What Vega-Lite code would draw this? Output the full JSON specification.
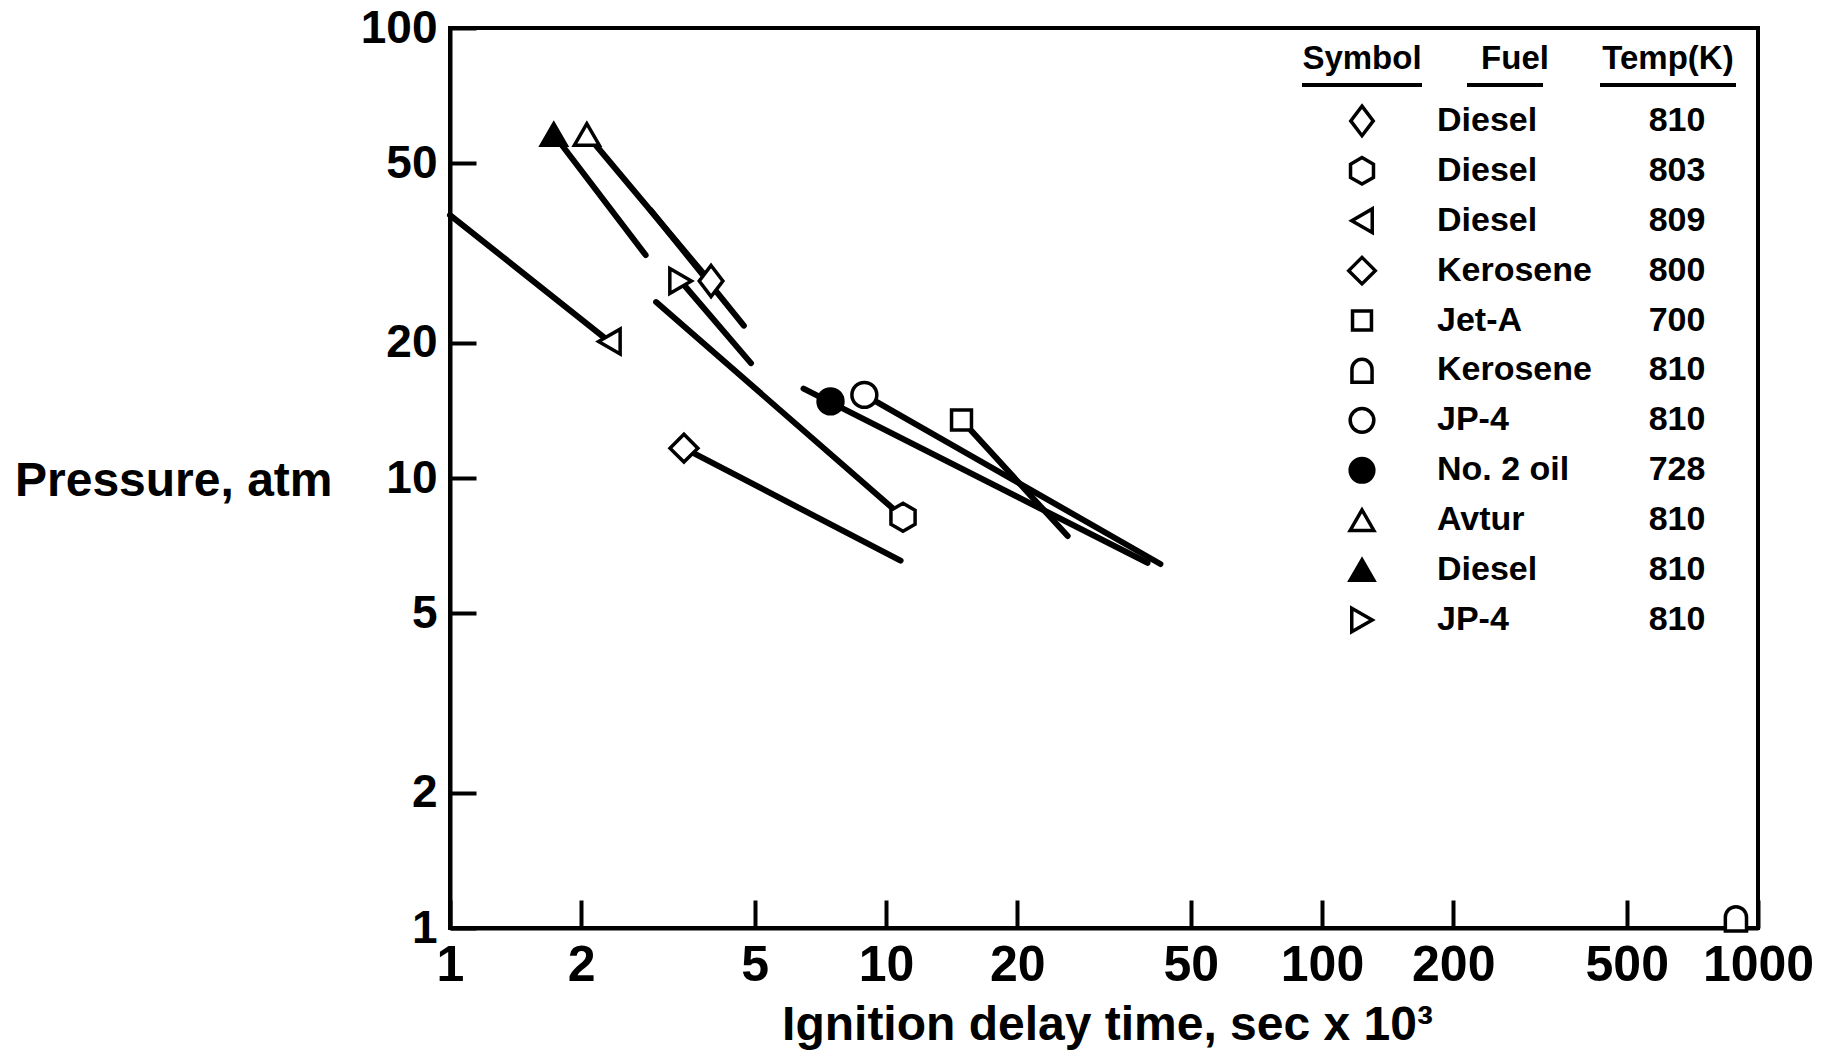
{
  "$schema": "https://vega.github.io/schema/vega-lite/v6.json",
  "width": 1308,
  "height": 900,
  "autosize": {"type": "none"},
  "padding": {"left": 450, "top": 28, "right": 84, "bottom": 125},
  "background": "white",
  "config": {
    "view": {"stroke": "black", "strokeWidth": 4},
    "font": "Liberation Sans",
    "text": {"font": "Liberation Sans", "fontWeight": "bold", "fontSize": 34, "color": "black"}
  },
  "datasets": {
    "series": [
      {"key": "Diesel 810 (diamond)", "fuel": "Diesel", "temp": "810", "t": 3.97, "p": 27.4},
      {"key": "Diesel 803 (hexagon)", "fuel": "Diesel", "temp": "803", "t": 10.94, "p": 8.18},
      {"key": "Diesel 809 (left triangle)", "fuel": "Diesel", "temp": "809", "t": 2.32, "p": 20.1},
      {"key": "Kerosene 800 (diamond)", "fuel": "Kerosene", "temp": "800", "t": 3.44, "p": 11.65},
      {"key": "Jet-A 700 (square)", "fuel": "Jet-A", "temp": "700", "t": 14.9, "p": 13.45},
      {"key": "Kerosene 810 (arch)", "fuel": "Kerosene", "temp": "810", "t": 890, "p": 1.05},
      {"key": "JP-4 810 (circle)", "fuel": "JP-4", "temp": "810", "t": 8.92, "p": 15.3},
      {"key": "No. 2 oil 728 (filled circle)", "fuel": "No. 2 oil", "temp": "728", "t": 7.46, "p": 14.8},
      {"key": "Avtur 810 (triangle)", "fuel": "Avtur", "temp": "810", "t": 2.06, "p": 58.0},
      {"key": "Diesel 810 (filled triangle)", "fuel": "Diesel", "temp": "810", "t": 1.73, "p": 58.0},
      {"key": "JP-4 810 (right triangle)", "fuel": "JP-4", "temp": "810", "t": 3.38, "p": 27.4}
    ],
    "lines": [
      {"key": "Diesel 810 (diamond)", "t": 2.89, "p": 39.3},
      {"key": "Diesel 810 (diamond)", "t": 4.72, "p": 21.8},
      {"key": "Diesel 803 (hexagon)", "t": 2.97, "p": 24.6},
      {"key": "Diesel 803 (hexagon)", "t": 10.94, "p": 8.18},
      {"key": "Diesel 809 (left triangle)", "t": 1.0, "p": 38.4},
      {"key": "Diesel 809 (left triangle)", "t": 2.32, "p": 20.1},
      {"key": "Kerosene 800 (diamond)", "t": 3.44, "p": 11.65},
      {"key": "Kerosene 800 (diamond)", "t": 10.8, "p": 6.55},
      {"key": "Jet-A 700 (square)", "t": 14.9, "p": 13.45},
      {"key": "Jet-A 700 (square)", "t": 26.1, "p": 7.43},
      {"key": "JP-4 810 (circle)", "t": 8.92, "p": 15.3},
      {"key": "JP-4 810 (circle)", "t": 42.6, "p": 6.44},
      {"key": "No. 2 oil 728 (filled circle)", "t": 6.47, "p": 15.8},
      {"key": "No. 2 oil 728 (filled circle)", "t": 39.8, "p": 6.48},
      {"key": "Avtur 810 (triangle)", "t": 2.06, "p": 58.0},
      {"key": "Avtur 810 (triangle)", "t": 3.82, "p": 28.4},
      {"key": "Diesel 810 (filled triangle)", "t": 1.73, "p": 58.0},
      {"key": "Diesel 810 (filled triangle)", "t": 2.81, "p": 31.3},
      {"key": "JP-4 810 (right triangle)", "t": 3.38, "p": 27.4},
      {"key": "JP-4 810 (right triangle)", "t": 4.9, "p": 18.0}
    ],
    "headers": [
      {"h": "Symbol"},
      {"h": "Fuel"},
      {"h": "Temp(K)"}
    ]
  },
  "layer": [
    {
      "layer": [
        {
          "data": {"name": "lines"},
          "mark": {"type": "line", "stroke": "black", "strokeWidth": 6, "strokeCap": "round"},
          "encoding": {
            "x": {
              "field": "t", "type": "quantitative",
              "scale": {"type": "log", "domain": [1, 1000], "nice": false},
              "axis": {
                "values": [1, 2, 5, 10, 20, 50, 100, 200, 500, 1000],
                "format": "d",
                "grid": false,
                "tickSize": -28, "tickWidth": 4, "tickColor": "black",
                "domainColor": "black", "domainWidth": 4,
                "labelFont": "Liberation Sans", "labelFontWeight": "bold", "labelFontSize": 50, "labelColor": "black",
                "labelPadding": 40, "labelFlush": false, "labelOverlap": false,
                "title": "Ignition delay time, sec x 10³",
                "titleFont": "Liberation Sans", "titleFontWeight": "bold", "titleFontSize": 48, "titleColor": "black",
                "titleX": 657, "titleY": 111, "titleAlign": "center", "titleBaseline": "alphabetic", "titleAnchor": null
              }
            },
            "y": {
              "field": "p", "type": "quantitative",
              "scale": {"type": "log", "domain": [1, 100], "nice": false},
              "axis": {
                "values": [1, 2, 5, 10, 20, 50, 100],
                "format": "d",
                "grid": false,
                "tickSize": -26, "tickWidth": 4, "tickColor": "black",
                "domainColor": "black", "domainWidth": 4,
                "labelFont": "Liberation Sans", "labelFontWeight": "bold", "labelFontSize": 46, "labelColor": "black",
                "labelPadding": 39, "labelFlush": false, "labelOverlap": false, "labelBaseline": "middle",
                "title": "Pressure, atm",
                "titleFont": "Liberation Sans", "titleFontWeight": "bold", "titleFontSize": 48, "titleColor": "black",
                "titleAngle": 0, "titleX": -118, "titleY": 453, "titleAlign": "right", "titleBaseline": "middle"
              }
            },
            "detail": {"field": "key", "type": "nominal"}
          }
        },
        {
          "data": {"name": "series"},
          "mark": {"type": "point", "filled": true, "stroke": "black", "strokeWidth": 3.5, "size": 620, "opacity": 1},
          "encoding": {
            "x": {"field": "t", "type": "quantitative"},
            "y": {"field": "p", "type": "quantitative"},
            "shape": {
              "field": "key", "type": "nominal", "legend": null,
              "scale": {
                "domain": ["Diesel 810 (diamond)", "Diesel 803 (hexagon)", "Diesel 809 (left triangle)", "Kerosene 800 (diamond)", "Jet-A 700 (square)", "Kerosene 810 (arch)", "JP-4 810 (circle)", "No. 2 oil 728 (filled circle)", "Avtur 810 (triangle)", "Diesel 810 (filled triangle)", "JP-4 810 (right triangle)"],
                "range": ["M0,-1.25L0.95,0L0,1.25L-0.95,0Z", "M0,-1.12L0.97,-0.56L0.97,0.56L0,1.12L-0.97,0.56L-0.97,-0.56Z", "triangle-left", "M0,-1.12L1.12,0L0,1.12L-1.12,0Z", "M-0.8,-0.8L0.8,-0.8L0.8,0.8L-0.8,0.8Z", "M-0.85,1L-0.85,-0.1A0.85,0.85,0,0,1,0.85,-0.1L0.85,1Z", "circle", "circle", "triangle-up", "triangle-up", "triangle-right"]
              }
            },
            "fill": {
              "field": "key", "type": "nominal", "legend": null,
              "scale": {
                "domain": ["Diesel 810 (diamond)", "Diesel 803 (hexagon)", "Diesel 809 (left triangle)", "Kerosene 800 (diamond)", "Jet-A 700 (square)", "Kerosene 810 (arch)", "JP-4 810 (circle)", "No. 2 oil 728 (filled circle)", "Avtur 810 (triangle)", "Diesel 810 (filled triangle)", "JP-4 810 (right triangle)"],
                "range": ["white", "white", "white", "white", "white", "white", "white", "black", "white", "black", "white"]
              }
            }
          }
        }
      ]
    },
    {
      "layer": [
        {
          "data": {"name": "series"},
          "mark": {"type": "point", "filled": true, "stroke": "black", "strokeWidth": 3.5, "size": 560, "opacity": 1},
          "encoding": {
            "x": {"datum": "Symbol", "type": "nominal", "axis": null,
                  "scale": {"type": "point", "domain": ["Symbol", "Fuel", "Temp(K)"], "range": [912, 1218], "padding": 0}},
            "y": {"field": "key", "type": "nominal", "axis": null,
                  "scale": {"type": "point", "padding": 0, "range": [43, 592],
                            "domain": ["header", "Diesel 810 (diamond)", "Diesel 803 (hexagon)", "Diesel 809 (left triangle)", "Kerosene 800 (diamond)", "Jet-A 700 (square)", "Kerosene 810 (arch)", "JP-4 810 (circle)", "No. 2 oil 728 (filled circle)", "Avtur 810 (triangle)", "Diesel 810 (filled triangle)", "JP-4 810 (right triangle)"]}},
            "shape": {"field": "key", "type": "nominal", "legend": null},
            "fill": {"field": "key", "type": "nominal", "legend": null}
          }
        },
        {
          "data": {"name": "series"},
          "mark": {"type": "text", "align": "left", "baseline": "middle", "dx": -78, "fontSize": 34, "fontWeight": "bold"},
          "encoding": {
            "x": {"datum": "Fuel", "type": "nominal"},
            "y": {"field": "key", "type": "nominal"},
            "text": {"field": "fuel"}
          }
        },
        {
          "data": {"name": "series"},
          "mark": {"type": "text", "align": "center", "baseline": "middle", "dx": 9, "fontSize": 34, "fontWeight": "bold"},
          "encoding": {
            "x": {"datum": "Temp(K)", "type": "nominal"},
            "y": {"field": "key", "type": "nominal"},
            "text": {"field": "temp"}
          }
        },
        {
          "data": {"name": "headers"},
          "mark": {"type": "text", "align": "center", "baseline": "middle", "dy": -12, "fontSize": 33, "fontWeight": "bold"},
          "encoding": {
            "x": {"field": "h", "type": "nominal"},
            "y": {"datum": "header", "type": "nominal"},
            "text": {"field": "h"}
          }
        },
        {
          "data": {"name": "headers"},
          "transform": [{"filter": "datum.h == 'Symbol'"}],
          "mark": {"type": "tick", "orient": "horizontal", "thickness": 4, "size": 120, "yOffset": 14, "color": "black", "opacity": 1},
          "encoding": {
            "x": {"field": "h", "type": "nominal"},
            "y": {"datum": "header", "type": "nominal"}
          }
        },
        {
          "data": {"name": "headers"},
          "transform": [{"filter": "datum.h == 'Fuel'"}],
          "mark": {"type": "tick", "orient": "horizontal", "thickness": 4, "size": 76, "yOffset": 14, "xOffset": -10, "color": "black", "opacity": 1},
          "encoding": {
            "x": {"field": "h", "type": "nominal"},
            "y": {"datum": "header", "type": "nominal"}
          }
        },
        {
          "data": {"name": "headers"},
          "transform": [{"filter": "datum.h == 'Temp(K)'"}],
          "mark": {"type": "tick", "orient": "horizontal", "thickness": 4, "size": 136, "yOffset": 14, "color": "black", "opacity": 1},
          "encoding": {
            "x": {"field": "h", "type": "nominal"},
            "y": {"datum": "header", "type": "nominal"}
          }
        }
      ]
    }
  ],
  "resolve": {"scale": {"x": "independent", "y": "independent"}}
}
